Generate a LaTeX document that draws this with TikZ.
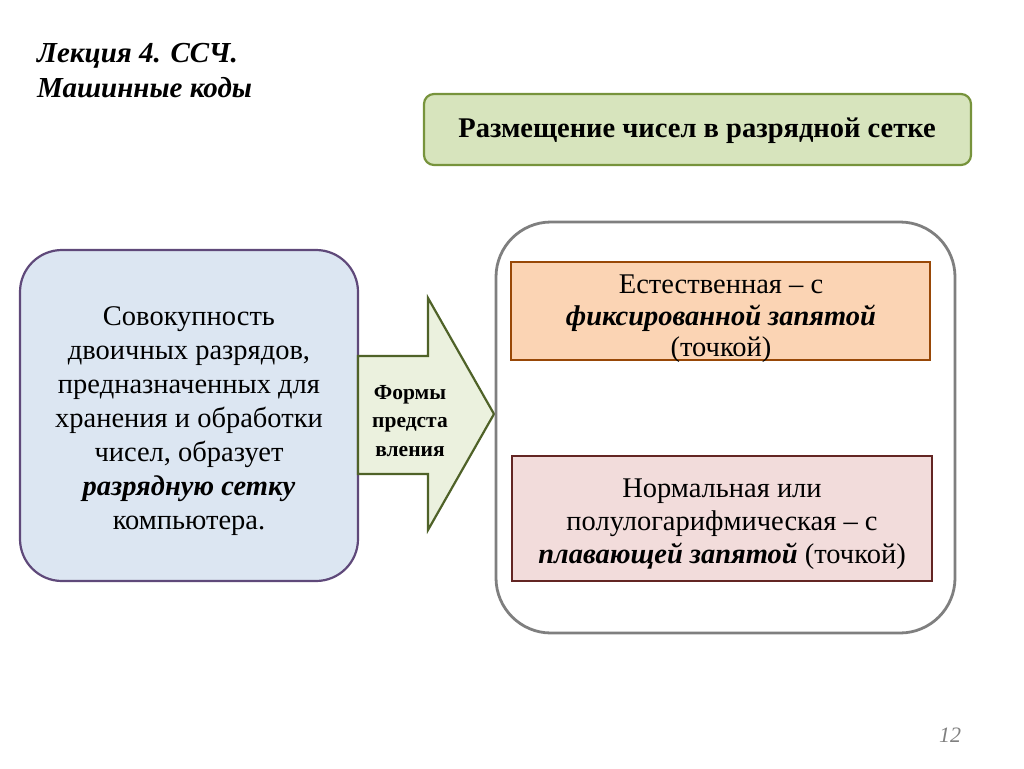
\documentclass[tikz,border=0pt]{standalone}
\usepackage{fontspec}
\setmainfont{Liberation Serif}
\usetikzlibrary{positioning}
\definecolor{gfill}{HTML}{D7E4BD}
\definecolor{gline}{HTML}{77933C}
\definecolor{bfill}{HTML}{DCE6F2}
\definecolor{bline}{HTML}{5F497A}
\definecolor{afill}{HTML}{EBF1DE}
\definecolor{aline}{HTML}{4F6228}
\definecolor{ofill}{HTML}{FBD4B4}
\definecolor{oline}{HTML}{984807}
\definecolor{pfill}{HTML}{F2DCDB}
\definecolor{pline}{HTML}{632523}
\definecolor{rline}{HTML}{7F7F7F}
\tikzset{
  txt/.style={align=center, font=\fontsize{28.5}{34}\selectfont},
  box/.style={draw, line width=2.2pt},
}
\begin{document}
\begin{tikzpicture}[x=1pt,y=-1pt]
\useasboundingbox (0,0) rectangle (1024,768);
% title
\node[anchor=base west, align=left, inner sep=0pt, font=\fontsize{29}{35}\selectfont\bfseries\itshape] (title) at (37,97) {Лекция 4. ССЧ.\\Машинные коды};
% top box
\draw[box, draw=gline, fill=gfill, rounded corners=10pt] (424,94) rectangle (971,165);
\node[font=\fontsize{28.5}{34}\selectfont\bfseries] (topt) at (697,131) {Размещение чисел в разрядной сетке};
% left box
\draw[box, draw=bline, fill=bfill, rounded corners=42pt] (20,250) rectangle (358,581);
\node[txt] (left) at (189,421) {Совокупность\\двоичных разрядов,\\предназначенных для\\хранения и обработки\\чисел, образует\\\textbf{\textit{разрядную сетку}}\\компьютера.};
% arrow
\draw[line width=2.2pt, draw=aline, fill=afill, line join=miter]
  (358,356) -- (428,356) -- (428,298) -- (494,414) -- (428,530) -- (428,474) -- (358,474) -- cycle;
\node[align=center, font=\fontsize{21.5}{28.5}\selectfont\bfseries] (arr) at (410,421) {Формы\\предста\\вления};
% right big box
\draw[line width=2.8pt, draw=rline, fill=white, rounded corners=55pt] (496,222) rectangle (955,633);
% orange box
\draw[box, draw=oline, fill=ofill] (511,262) rectangle (930,360);
\node[txt, font=\fontsize{28.5}{31.5}\selectfont] (nat) at (721,319) {Естественная – с\\\textbf{\textit{фиксированной запятой}}\\(точкой)};
% pink box
\draw[box, draw=pline, fill=pfill] (512,456) rectangle (932,581);
\node[txt, font=\fontsize{28.5}{33}\selectfont] (norm) at (722,524) {Нормальная или\\полулогарифмическая – с\\\textbf{\textit{плавающей запятой}} (точкой)};
% page number
\node[font=\fontsize{22}{26}\selectfont\itshape, text=gray] (pg) at (950,735) {12};
\end{tikzpicture}
\end{document}
